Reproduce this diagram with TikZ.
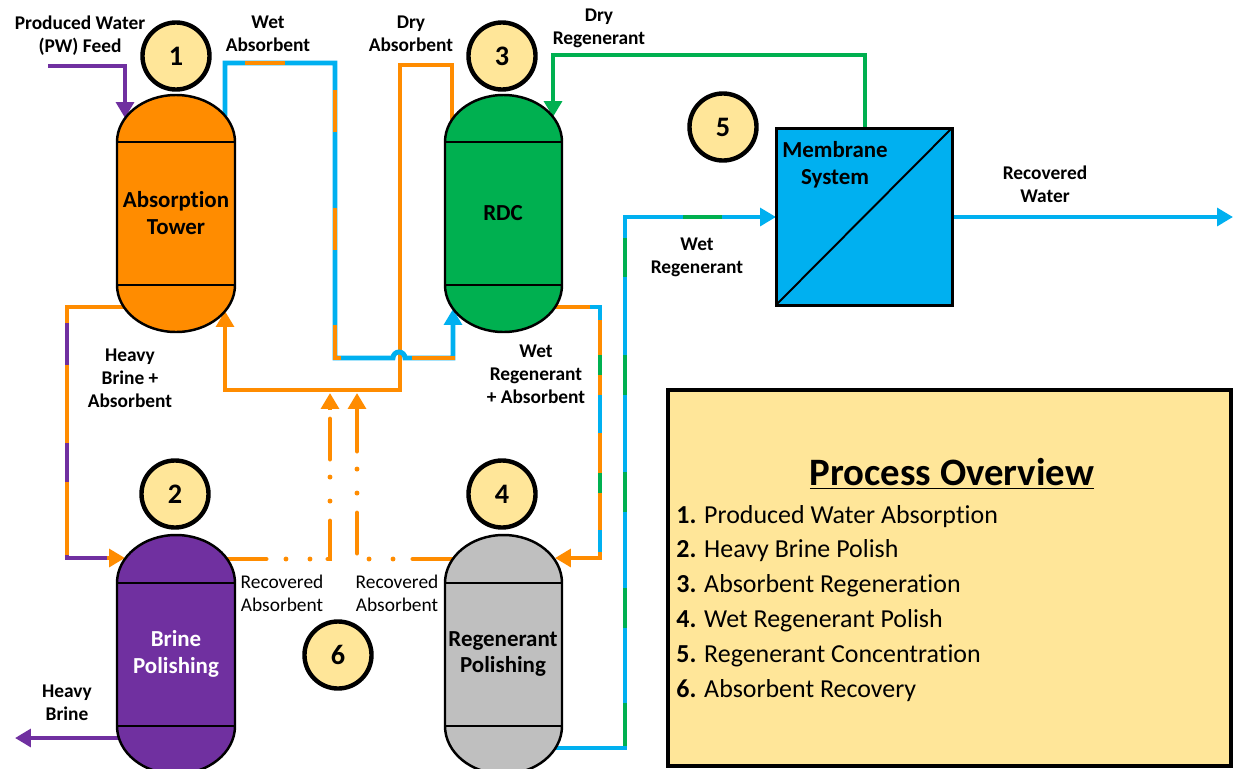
\documentclass[tikz,border=0pt]{standalone}
\usepackage{fontspec}
\setmainfont{Carlito}[Ligatures=NoCommon]
\usetikzlibrary{arrows.meta,calc}
\definecolor{corange}{HTML}{FF8C00}
\definecolor{cblue}{HTML}{00B0F0}
\definecolor{cgreen}{HTML}{00B050}
\definecolor{cpurple}{HTML}{7030A0}
\definecolor{cgrey}{HTML}{BFBFBF}
\definecolor{cyellow}{HTML}{FFE699}
\newcommand{\drawvessel}[6]{%
  \pgfmathsetmacro\vrx{(#2-#1)/2}
  \filldraw[vessel,fill=#6] (#1,#3) arc[start angle=180,end angle=360,x radius=\vrx,y radius=#5]
     -- (#2,#4) arc[start angle=0,end angle=180,x radius=\vrx,y radius=#5] -- cycle;
  \draw[vessel] (#1,#3) -- (#2,#3) (#1,#4) -- (#2,#4);
}
\begin{document}
\begin{tikzpicture}[x=0.5669pt,y=-0.5669pt,
  pipe/.style={line width=2.8pt},
  tip/.style={-{Triangle[length=9pt,width=10pt]}},
  vessel/.style={draw=black,line width=1.4pt},
  num/.style={circle,draw=black,line width=2.5pt,fill=cyellow,minimum size=38pt,inner sep=0pt,font=\fontsize{16}{16}\selectfont\bfseries},
  lbl/.style={align=center,font=\fontsize{11}{13}\selectfont\bfseries},
  rlbl/.style={align=center,font=\fontsize{11}{13}\selectfont},
  vtext/.style={align=center,font=\fontsize{13}{15.3}\selectfont\bfseries},
  dashdot/.style={line cap=round,dash pattern=on 22.7pt off 11.3pt on 0pt off 13.6pt on 0pt off 10.2pt},
  item/.style={anchor=west,inner sep=0pt,font=\fontsize{14.7}{16}\selectfont},
]
\useasboundingbox (0,0) rectangle (1233,768);
\clip (0,0) rectangle (1233,768);

% ---- ports ----
\coordinate (pwin) at (48,66);
\coordinate (pwc) at (125,66);
\coordinate (absin) at (125,118);
\coordinate (absout) at (225,116);
\coordinate (absret) at (225,311);
\coordinate (absbot) at (124,307);
\coordinate (rdcdry) at (452,120);
\coordinate (rdcregin) at (553,117);
\coordinate (rdcwetin) at (453,309);
\coordinate (rdcbot) at (555,307);
\coordinate (bpin) at (125,558);
\coordinate (bprec) at (226,559);
\coordinate (bpout) at (119,738);
\coordinate (hbout) at (15,738);
\coordinate (rpin) at (555,558);
\coordinate (rprec) at (453,559);
\coordinate (rpout) at (555,748);
\coordinate (memin) at (776,217);
\coordinate (memtop) at (865,128);
\coordinate (memout) at (952,217);
\coordinate (rwout) at (1233,217);
\coordinate (recA) at (330,393);
\coordinate (recB) at (357,393);

% ---- pipes ----
% Dry absorbent (orange)
\draw[pipe,corange,tip] (rdcdry) -- (452,65) -- (400,65) -- (400,390) -- (225,390) -- (absret);
% Wet absorbent (blue with orange)
\draw[pipe,cblue,tip] (absout) -- (225,63) -- (335,63) -- (335,358) -- (393,358)
   arc[start angle=180,end angle=360,radius=6] -- (453,358) -- (rdcwetin);
\draw[pipe,corange] (245,63) -- (285,63);
\draw[pipe,corange] (335,90) -- (335,132);
\draw[pipe,corange] (335,208) -- (335,250);
\draw[pipe,corange] (335,325) -- (335,358) -- (341,358);
\draw[pipe,corange] (412,358) -- (453,358) -- (453,356);
% PW feed
\draw[pipe,cpurple,tip] (pwin) -- (pwc) -- (absin);
% Heavy brine + absorbent
\draw[pipe,corange,tip] (absbot) -- (67,307) -- (67,558) -- (bpin);
\draw[pipe,cpurple] (67,323) -- (67,365);
\draw[pipe,cpurple] (67,443) -- (67,482);
\draw[pipe,cpurple] (67,555) -- (67,558) -- (107,558);
% Heavy brine out
\draw[pipe,cpurple,tip] (bpout) -- (hbout);
% Wet regenerant + absorbent
\draw[pipe,corange,tip] (rdcbot) -- (600,307) -- (600,558) -- (rpin);
\draw[pipe,cblue] (590,307) -- (600,307) -- (600,320);
\draw[pipe,cgreen] (600,355) -- (600,375);
\draw[pipe,cblue] (600,395) -- (600,433);
\draw[pipe,cgreen] (600,473) -- (600,493);
\draw[pipe,cblue] (600,530) -- (600,552);
% Wet regenerant
\draw[pipe,cblue,tip] (rpout) -- (625,748) -- (625,217) -- (memin);
\draw[pipe,cgreen] (625,703) -- (625,746);
\draw[pipe,cgreen] (625,588) -- (625,628);
\draw[pipe,cgreen] (625,472) -- (625,512);
\draw[pipe,cgreen] (625,355) -- (625,395);
\draw[pipe,cgreen] (625,238) -- (625,277);
\draw[pipe,cgreen] (683,217) -- (722,217);
% Dry regenerant
\draw[pipe,cgreen,tip] (memtop) -- (865,55) -- (553,55) -- (rdcregin);
% Recovered water
\draw[pipe,cblue,tip] (memout) -- (rwout);
% Recovered absorbent (dash-dot)
\draw[pipe,corange,dashdot] (bprec) -- (330,559) -- (330,409);
\draw[pipe,corange,tip] (330,410) -- (recA);
\draw[pipe,corange,dashdot] (rprec) -- (357,559) -- (357,409);
\draw[pipe,corange,tip] (357,410) -- (recB);

% ---- vessels ----
\drawvessel{117}{235}{142}{285}{47}{corange}
\drawvessel{445}{562}{142}{285}{47}{cgreen}
\drawvessel{117}{235}{583}{726}{48}{cpurple}
\drawvessel{445}{562}{583}{726}{48}{cgrey}

\node[vtext] (tAbs) at (176,213) {Absorption\\Tower};
\node[vtext] (tRDC) at (503,213) {RDC};
\node[vtext,text=white] (tBrine) at (176,654) {Brine\\Polishing};
\node[vtext] (tRegP) at (503,654) {Regenerant\\Polishing};

% membrane
\filldraw[draw=black,line width=1.7pt,fill=cblue] (776,128) rectangle (952,305);
\draw[line width=1.1pt] (776,305) -- (952,128);
\node[vtext,anchor=center] (tMem) at (835,165) {Membrane\\System};

% ---- number circles ----
\node[num] (c1) at (176,56) {1};
\node[num] (c2) at (175,494) {2};
\node[num] (c3) at (502,56) {3};
\node[num] (c4) at (502,494) {4};
\node[num] (c5) at (723,127) {5};
\node[num] (c6) at (338,655) {6};

% ---- labels ----
\node[lbl] (lPW) at (80,36) {Produced Water\\(PW) Feed};
\node[lbl] (lWA) at (268,34) {Wet\\Absorbent};
\node[lbl] (lDA) at (411,34) {Dry\\Absorbent};
\node[lbl] (lDR) at (599,28) {Dry\\Regenerant};
\node[lbl] (lHB) at (130,378) {Heavy\\Brine +\\Absorbent};
\node[lbl] (lWRA) at (536,374) {Wet\\Regenerant\\+ Absorbent};
\node[rlbl] (lRA1) at (282,593) {Recovered\\Absorbent};
\node[rlbl] (lRA2) at (397,593) {Recovered\\Absorbent};
\node[lbl] (lHBo) at (67,703) {Heavy\\Brine};
\node[lbl] (lWR) at (697,257) {Wet\\Regenerant};
\node[lbl] (lRW) at (1045,184) {Recovered\\Water};

% ---- legend ----
\filldraw[draw=black,line width=2.3pt,fill=cyellow] (668,390) rectangle (1231,766);
\node[font=\fontsize{22}{24}\selectfont\bfseries] (legT) at (952,474) {\underline{Process Overview}};
\node[item] (leg1) at (676,517) {\textbf{1.} Produced Water Absorption};
\node[item] (leg2) at (676,551) {\textbf{2.} Heavy Brine Polish};
\node[item] (leg3) at (676,586) {\textbf{3.} Absorbent Regeneration};
\node[item] (leg4) at (676,621) {\textbf{4.} Wet Regenerant Polish};
\node[item] (leg5) at (676,656) {\textbf{5.} Regenerant Concentration};
\node[item] (leg6) at (676,691) {\textbf{6.} Absorbent Recovery};
\end{tikzpicture}
\end{document}
